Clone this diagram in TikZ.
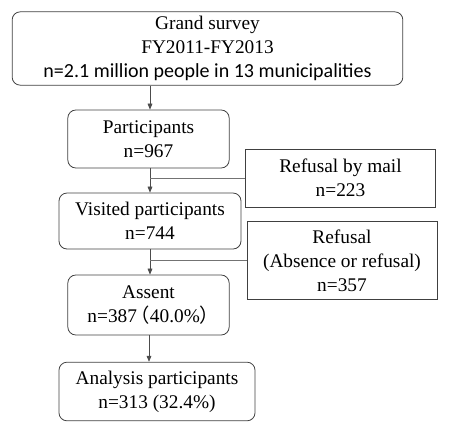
\documentclass[tikz,border=0pt]{standalone}
\usepackage{fontspec}
\setmainfont{Liberation Serif}
\newfontfamily\calibri{Carlito}
\newfontfamily\cjk[RawFeature=+halt]{Noto Sans CJK JP}
\usepackage{tikz}
\usetikzlibrary{arrows.meta}

\begin{document}
\begin{tikzpicture}[x=0.75pt,y=-0.75pt,
    stepround/.style={
        draw=black!75,
        line width=0.6pt,
        rounded corners=6pt,
        align=center,
        inner sep=0pt,
        font=\fontsize{14.5}{18}\selectfont
    },
    stepsquare/.style={
        draw=black!75,
        line width=0.6pt,
        align=center,
        inner sep=0pt,
        font=\fontsize{14.5}{18}\selectfont
    },
    flow/.style={
        ->,
        >={Triangle[length=4.5pt,width=3.6pt]},
        black!70,
        line width=0.5pt
    },
    side/.style={
        black!55,
        line width=0.45pt
    }
]

\node[stepround, minimum width=293pt, minimum height=55pt]
(grand) at (207.5,48.5)
{Grand survey\\FY2011-FY2013\\{\calibri\fontsize{15}{18}\selectfont n=2.1 million people in 13 municipalities}};

\node[stepround, minimum width=121pt, minimum height=43.5pt]
(part) at (148.5,139)
{Participants\\n=967};

\node[stepsquare, minimum width=142pt, minimum height=43.5pt]
(mail) at (340.5,178)
{Refusal by mail\\n=223};

\node[stepround, minimum width=136.5pt, minimum height=42pt]
(visit) at (150,221)
{Visited participants\\n=744};

\node[stepsquare, minimum width=142.5pt, minimum height=59pt]
(refusal) at (342,260.5)
{Refusal\\(Absence or refusal)\\n=357};

\node[stepround, minimum width=121pt, minimum height=45pt]
(assent) at (148.5,305)
{Assent\\n=387\,{\cjk（}40.0\%{\cjk）}};

\node[stepround, minimum width=147pt, minimum height=44pt]
(analysis) at (157,391.5)
{Analysis participants\\n=313 (32.4\%)};

\coordinate (jmail) at (150,178);
\coordinate (jrefusal) at (150,260.5);

\draw[flow] (grand.south -| 150,0) -- (150,0 |- part.north);
\draw[flow] (150,0 |- part.south) -- (150,0 |- visit.north);
\draw[flow] (visit.south) -- (visit.south |- assent.north);
\draw[flow] (149,0 |- assent.south) -- (149,0 |- analysis.north);

\draw[side] (jmail) -- (mail.west);
\draw[side] (jrefusal) -- (refusal.west);

\pgfresetboundingbox
\path[use as bounding box] (0,0) rectangle (449,433);
\end{tikzpicture}
\end{document}
